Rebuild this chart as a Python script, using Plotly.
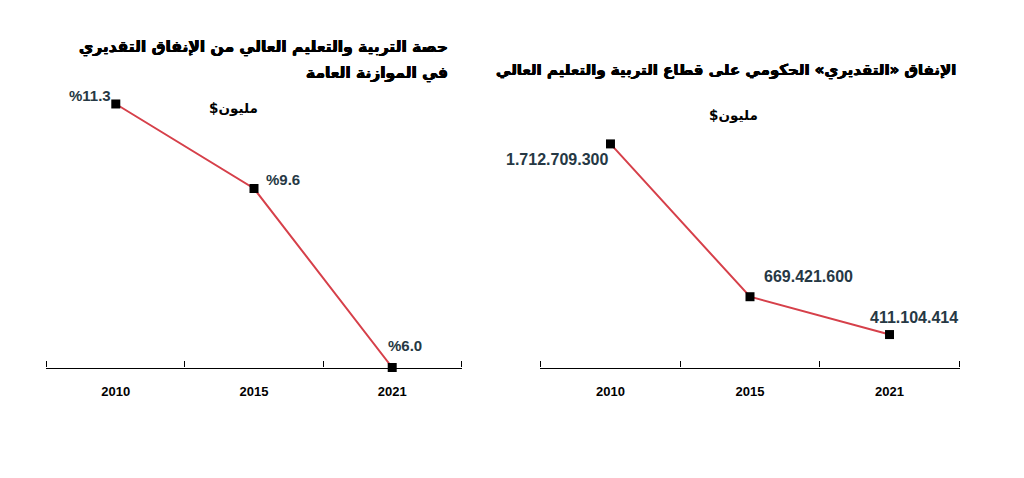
import plotly.graph_objects as go

years = ["2010", "2015", "2021"]
share_values = [11.3, 9.6, 6.0]
share_labels = ["%11.3", "%9.6", "%6.0"]
spend_values = [1712709300, 669421600, 411104414]
spend_labels = ["1.712.709.300", "669.421.600", "411.104.414"]

left_title_lines = ["حصة التربية والتعليم العالي من الإنفاق التقديري", "في الموازنة العامة"]
right_title = "الإنفاق «التقديري» الحكومي على قطاع التربية والتعليم العالي"
unit_text = "$مليون"

W, H = 1024, 478
RED = "#d6404a"
LABEL = "#263844"
AR_FONT = "DejaVu Sans"
NUM_FONT = "Liberation Sans"
THICK = "0.45px 0 0 black, -0.45px 0 0 black, 0 0.3px 0 black"

def px(x):
    return x / W

def py(y):
    return 1 - y / H

idx = list(range(len(years)))
bounds = [i - 0.5 for i in idx] + [idx[-1] + 0.5]

fig = go.Figure()
fig.add_trace(go.Scatter(
    x=idx, y=share_values, xaxis="x", yaxis="y", mode="lines+markers",
    line=dict(color=RED, width=2), cliponaxis=False,
    marker=dict(symbol="square", size=9, color="black"),
    hoverinfo="skip", showlegend=False))
fig.add_trace(go.Scatter(
    x=idx, y=spend_values, xaxis="x2", yaxis="y2", mode="lines+markers",
    line=dict(color=RED, width=2), cliponaxis=False,
    marker=dict(symbol="square", size=9, color="black"),
    hoverinfo="skip", showlegend=False))

xcommon = dict(type="linear", tickmode="array", tickvals=idx, ticktext=years, ticks="",
               minor=dict(tickmode="array", tickvals=bounds, ticks="inside", ticklen=6,
                          tickcolor="black", tickwidth=1.2, showgrid=False),
               showline=True, linecolor="black",
               linewidth=1.4, showgrid=False, zeroline=False, range=[-0.505, 2.505],
               tickfont=dict(family=NUM_FONT, size=13, color="black", weight="bold"),
               ticklabelstandoff=12, fixedrange=True)
ycommon = dict(visible=False, showgrid=False, zeroline=False, fixedrange=True)

ydom = [py(367.5), py(100)]
fig.update_layout(
    width=W, height=H, margin=dict(l=0, r=0, t=0, b=0),
    paper_bgcolor="white", plot_bgcolor="white",
    xaxis=dict(domain=[px(46), px(462)], anchor="y", **xcommon),
    yaxis=dict(domain=ydom, range=[6.0, 11.38], anchor="x", **ycommon),
    xaxis2=dict(domain=[px(540), px(960)], anchor="y2", **xcommon),
    yaxis2=dict(domain=ydom, range=[186.2e6, 2012.5e6], anchor="x2", **ycommon),
)

annotations = []
left_shifts = [(-26, 8), (29, 9), (13, 22)]
for i, v, t, (dx, dy) in zip(idx, share_values, share_labels, left_shifts):
    annotations.append(dict(x=i, y=v, xref="x", yref="y", text=t, showarrow=False,
                            xshift=dx, yshift=dy,
                            font=dict(family=NUM_FONT, size=15, color=LABEL, weight="bold")))
right_shifts = [(-53, -16), (58, 20), (24, 17)]
for i, v, t, (dx, dy) in zip(idx, spend_values, spend_labels, right_shifts):
    annotations.append(dict(x=i, y=v, xref="x2", yref="y2", text=t, showarrow=False,
                            xshift=dx, yshift=dy,
                            font=dict(family=NUM_FONT, size=16, color=LABEL, weight="bold")))

for line, ypos in zip(left_title_lines, [47, 73]):
    annotations.append(dict(x=px(450), y=py(ypos), xref="paper", yref="paper", text=line,
                            xanchor="right", yanchor="middle", showarrow=False,
                            font=dict(family=AR_FONT, size=15.5, color="black", weight="bold",
                                      shadow=THICK)))
annotations.append(dict(x=px(958), y=py(70), xref="paper", yref="paper", text=right_title,
                        xanchor="right", yanchor="middle", showarrow=False,
                        font=dict(family=AR_FONT, size=15, color="black", weight="bold",
                                  shadow=THICK)))
annotations.append(dict(x=px(233), y=py(108), xref="paper", yref="paper", text=unit_text,
                        xanchor="center", yanchor="middle", showarrow=False,
                        font=dict(family=AR_FONT, size=13.5, color="black", weight="bold")))
annotations.append(dict(x=px(733), y=py(115), xref="paper", yref="paper", text=unit_text,
                        xanchor="center", yanchor="middle", showarrow=False,
                        font=dict(family=AR_FONT, size=13.5, color="black", weight="bold")))
fig.update_layout(annotations=annotations)

fig.write_html("out.html", config={"displayModeBar": False},
               post_script="document.body.style.margin='0';")
